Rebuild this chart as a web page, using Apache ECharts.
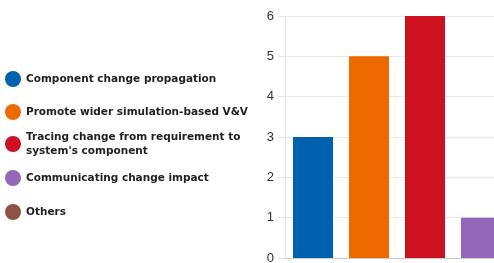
<!DOCTYPE html>
<html>
<head>
<meta charset="utf-8">
<script src="https://cdn.jsdelivr.net/npm/echarts@6/dist/echarts.min.js"></script>
<style>
  html, body { margin: 0; padding: 0; background: #fff; }
  #chart { width: 494px; height: 263px; }
</style>
</head>
<body>
<div id="chart"></div>
<script>
// categories / values
var categories = [
  'Component change propagation',
  'Promote wider simulation-based V&V',
  "Tracing change from requirement to\nsystem's component",
  'Communicating change impact',
  'Others'
];
var counts = [3, 5, 6, 1, 0];
var colors = ['#0062ae', '#ee6a00', '#cd1120', '#9467bb', '#8b5446'];
var yTicks = [0, 1, 2, 3, 4, 5, 6];

// legend rows
var legendTops = [66, 99, 125, 165, 199];

var series = [];
var legends = [];
for (var i = 0; i < categories.length; i++) {
  var d = [];
  for (var j = 0; j < categories.length; j++) {
    d.push(j === i ? counts[i] : '-');
  }
  series.push({
    name: categories[i],
    type: 'bar',
    stack: 'all',
    barWidth: 40,
    itemStyle: { color: colors[i] },
    data: d
  });
  legends.push({
    data: [categories[i]],
    left: 0,
    top: legendTops[i],
    icon: 'circle',
    itemWidth: 16,
    itemHeight: 16,
    selectedMode: false,
    textStyle: {
      fontFamily: 'DejaVu Sans',
      fontWeight: 'bold',
      fontSize: 10.5,
      lineHeight: 14,
      color: '#222'
    }
  });
}

var option = {
  animation: false,
  legend: legends,
  grid: { left: 285, top: 16, right: -71, bottom: 5, outerBoundsMode: 'none' },
  xAxis: {
    type: 'category',
    data: categories,
    axisLine: { lineStyle: { color: '#cccccc' } },
    axisTick: { show: false },
    axisLabel: { show: false }
  },
  yAxis: {
    type: 'value',
    min: yTicks[0],
    max: yTicks[yTicks.length - 1],
    interval: 1,
    axisLine: { show: true, lineStyle: { color: '#e3e3e3' } },
    axisTick: { show: true, length: 7, lineStyle: { color: '#e3e3e3' } },
    splitLine: { lineStyle: { color: '#e8e8e8' } },
    axisLabel: {
      margin: 11,
      fontFamily: 'Liberation Sans',
      fontSize: 13,
      color: '#333'
    }
  },
  series: series
};

var myChart = echarts.init(document.getElementById('chart'));
myChart.setOption(option);
</script>
</body>
</html>
